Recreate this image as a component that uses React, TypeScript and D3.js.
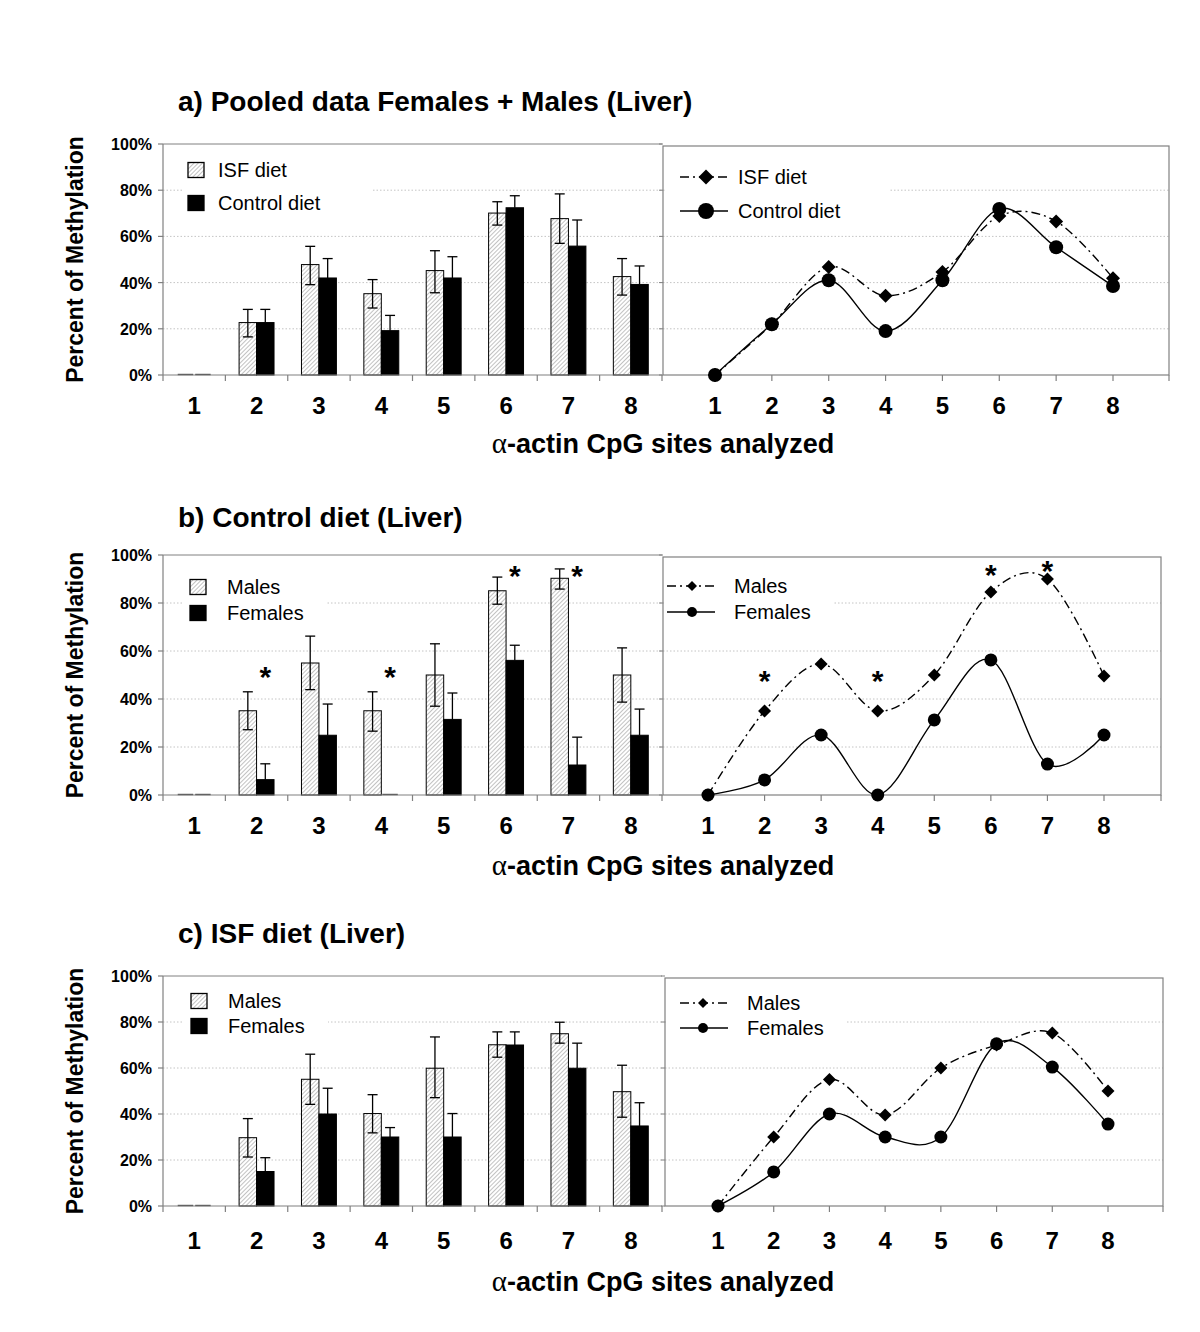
import React from "react";
import * as d3 from "d3";

// ---------- DATA ----------
const categories = ["1", "2", "3", "4", "5", "6", "7", "8"];
const yTicks = [0, 20, 40, 60, 80, 100];

// a) pooled bars
const pooledISF = [0, 22.7, 47.8, 35.2, 45.2, 70.1, 67.7, 42.6];
const pooledISFLow = [0, 16.5, 39.1, 29.0, 35.6, 64.9, 57.0, 34.6];
const pooledISFHigh = [0, 28.4, 55.7, 41.3, 53.8, 75.0, 78.4, 50.4];
const pooledControl = [0, 22.7, 42.0, 19.2, 42.0, 72.4, 55.8, 39.2];
const pooledControlHigh = [0, 28.4, 50.4, 25.8, 51.2, 77.6, 67.1, 47.2];
// a) pooled lines
const pooledISFLine = [0, 22, 46.8, 34.3, 44.6, 68.8, 66.5, 41.9];
const pooledControlLine = [0, 22, 41, 19, 41, 71.9, 55.3, 38.5];

// b) control diet bars
const controlMales = [0, 35.1, 55, 35.1, 50, 85.1, 90.3, 50];
const controlMalesLow = [0, 27.2, 43.9, 26.6, 37, 79.5, 85.8, 38.7];
const controlMalesHigh = [0, 43, 66.2, 43, 63, 90.8, 94.2, 61.3];
const controlFemales = [0, 6.4, 24.9, 0, 31.5, 56.1, 12.5, 24.9];
const controlFemalesHigh = [0, 13, 37.9, 0, 42.5, 62.4, 24.1, 35.8];
// b) control diet lines
const controlMalesLine = [0, 35, 54.6, 35, 50, 84.6, 90, 49.6];
const controlFemalesLine = [0, 6.3, 25, 0, 31.3, 56.3, 12.9, 25];
// b) significance marks
const controlStarCats = ["2", "4", "6", "7"];
const controlStarLeftY = [52, 52, 94, 94];
const controlStarRightY = [50.4, 50.4, 94.6, 96.3];

// c) ISF diet bars
const isfMales = [0, 29.7, 55.1, 40.2, 59.9, 70.1, 74.9, 49.7];
const isfMalesLow = [0, 21.3, 44.2, 31.8, 47.1, 64.7, 70.8, 38.6];
const isfMalesHigh = [0, 38, 66, 48.4, 73.5, 75.7, 79.9, 61.2];
const isfFemales = [0, 15, 40, 30, 30, 70, 59.9, 34.8];
const isfFemalesHigh = [0, 21, 51.2, 34.1, 40.2, 75.7, 70.8, 44.9];
// c) ISF diet lines
const isfMalesLine = [0, 30, 55, 39.6, 60, 70, 75.2, 50];
const isfFemalesLine = [0, 14.8, 40, 30, 30, 70.5, 60.4, 35.6];

// ---------- LAYOUT ----------
const FONT = "'Liberation Sans', Arial, Helvetica, sans-serif";
const GRID = "#c4c4c4";
const AXIS = "#808080";

const panels = [
  {
    key: "a",
    title: "a) Pooled data Females + Males (Liver)",
    titleY: 111,
    y0: 375,
    y100: 144,
    catY: 414,
    xTitleY: 453,
    bars: [
      { values: pooledISF, low: pooledISFLow, high: pooledISFHigh, hatch: true },
      { values: pooledControl, low: null, high: pooledControlHigh, hatch: false },
    ],
    barLegend: { labels: ["ISF diet", "Control diet"], sqX: 188, ys: [170, 203], textX: 218, bg: [183, 153, 372, 222] },
    lines: [
      { values: pooledISFLine, dashed: true },
      { values: pooledControlLine, dashed: false },
    ],
    box: [663, 1169],
    pts: [715, 1113],
    marker: { d: 7, r: 7 },
    lineLegend: { labels: ["ISF diet", "Control diet"], x0: 680, x1: 728, mx: 706, ys: [177, 211], textX: 738, d: 7.5, r: 8, bg: [665, 160, 890, 228] },
    stars: null,
  },
  {
    key: "b",
    title: "b) Control diet (Liver)",
    titleY: 527,
    y0: 795,
    y100: 555,
    catY: 834,
    xTitleY: 875,
    bars: [
      { values: controlMales, low: controlMalesLow, high: controlMalesHigh, hatch: true },
      { values: controlFemales, low: null, high: controlFemalesHigh, hatch: false },
    ],
    barLegend: { labels: ["Males", "Females"], sqX: 190, ys: [587, 613], textX: 227, bg: [183, 574, 326, 628] },
    lines: [
      { values: controlMalesLine, dashed: true },
      { values: controlFemalesLine, dashed: false },
    ],
    box: [663, 1161],
    pts: [708, 1104],
    marker: { d: 6.5, r: 6.5 },
    lineLegend: { labels: ["Males", "Females"], x0: 667, x1: 715, mx: 692, ys: [586, 612], textX: 734, d: 5, r: 5, bg: [664, 572, 833, 628] },
    stars: { cats: controlStarCats, left: controlStarLeftY, right: controlStarRightY },
  },
  {
    key: "c",
    title: "c) ISF diet (Liver)",
    titleY: 943,
    y0: 1206,
    y100: 976,
    catY: 1249,
    xTitleY: 1291,
    bars: [
      { values: isfMales, low: isfMalesLow, high: isfMalesHigh, hatch: true },
      { values: isfFemales, low: null, high: isfFemalesHigh, hatch: false },
    ],
    barLegend: { labels: ["Males", "Females"], sqX: 191, ys: [1001, 1026], textX: 228, bg: [183, 988, 328, 1042] },
    lines: [
      { values: isfMalesLine, dashed: true },
      { values: isfFemalesLine, dashed: false },
    ],
    box: [665, 1163],
    pts: [718, 1108],
    marker: { d: 6.5, r: 6.5 },
    lineLegend: { labels: ["Males", "Females"], x0: 680, x1: 728, mx: 703, ys: [1003, 1028], textX: 747, d: 5, r: 5, bg: [666, 988, 845, 1042] },
    stars: null,
  },
];

const LEFT_X0 = 163;
const LEFT_X1 = 662;

function diamond(x: number, y: number, h: number) {
  return `M${x},${y - h}L${x + h},${y}L${x},${y + h}L${x - h},${y}Z`;
}

function Panel({ p }: { p: any }) {
  const y = d3.scaleLinear().domain([0, 100]).range([p.y0, p.y100]);
  const x = d3.scaleBand().domain(categories).range([LEFT_X0, LEFT_X1]).paddingInner(0.44).paddingOuter(0.22);
  const sub = d3.scaleBand().domain(["s0", "s1"]).range([0, x.bandwidth()]);
  const xp = d3.scalePoint().domain(categories).range(p.pts);
  const step = x.step();
  const leftEdges = d3.range(categories.length + 1).map((i) => LEFT_X0 + i * step);

  const lineGen = (vals: number[]) =>
    d3
      .line<number>()
      .x((_, i) => xp(categories[i]) as number)
      .y((d) => y(d))
      .curve(d3.curveCardinal.tension(0))(vals) as string;

  const midY = (p.y0 + p.y100) / 2;
  const [bx0, bx1] = p.box;

  return (
    <g>
      {/* title */}
      <text x={178} y={p.titleY} fontFamily={FONT} fontWeight="bold" fontSize={28} fill="#000">
        {p.title}
      </text>

      {/* y-axis title */}
      <text
        transform={`translate(83,${midY}) rotate(-90)`}
        textAnchor="middle"
        fontFamily={FONT}
        fontWeight="bold"
        fontSize={23}
        fill="#000"
      >
        Percent of Methylation
      </text>

      {/* LEFT chart gridlines */}
      {yTicks.slice(1, 5).map((t) => (
        <line key={"lg" + t} x1={LEFT_X0} x2={LEFT_X1} y1={y(t)} y2={y(t)} stroke={GRID} strokeWidth={1} strokeDasharray="1.5,2" />
      ))}
      {/* top border */}
      <line x1={LEFT_X0} x2={LEFT_X1} y1={y(100)} y2={y(100)} stroke={AXIS} strokeWidth={1} />
      {/* legend bg */}
      <rect x={p.barLegend.bg[0]} y={p.barLegend.bg[1]} width={p.barLegend.bg[2] - p.barLegend.bg[0]} height={p.barLegend.bg[3] - p.barLegend.bg[1]} fill="#fff" />

      {/* y axis */}
      <line x1={LEFT_X0} x2={LEFT_X0} y1={y(100)} y2={y(0)} stroke={AXIS} strokeWidth={1.2} />
      {yTicks.map((t) => (
        <g key={"yt" + t}>
          <line x1={LEFT_X0 - 5} x2={LEFT_X0} y1={y(t)} y2={y(t)} stroke={AXIS} strokeWidth={1.2} />
          <text x={152} y={y(t) + 6} textAnchor="end" fontFamily={FONT} fontWeight="bold" fontSize={16} fill="#000">
            {t + "%"}
          </text>
        </g>
      ))}

      {/* bars */}
      {p.bars.map((s: any, si: number) =>
        categories.map((c, i) => {
          const bx = (x(c) as number) + (sub(si === 0 ? "s0" : "s1") as number);
          const bw = sub.bandwidth();
          const v = s.values[i];
          if (v <= 0) {
            return (
              <line key={`b${si}-${i}`} x1={bx + 1} x2={bx + bw - 1} y1={y(0) - 0.5} y2={y(0) - 0.5} stroke="#444" strokeWidth={1.4} />
            );
          }
          return (
            <rect
              key={`b${si}-${i}`}
              x={bx}
              y={y(v)}
              width={bw}
              height={Math.max(0, y(0) - y(v))}
              fill={s.hatch ? "url(#hatch)" : "#000"}
              stroke="#000"
              strokeWidth={1}
            />
          );
        })
      )}
      {/* error bars */}
      {p.bars.map((s: any, si: number) =>
        categories.map((c, i) => {
          const v = s.values[i];
          const hi = s.high[i];
          if (!(hi > v)) return null;
          const cx = (x(c) as number) + (sub(si === 0 ? "s0" : "s1") as number) + sub.bandwidth() / 2;
          const lo = s.low ? s.low[i] : v;
          const cw = 5;
          return (
            <g key={`e${si}-${i}`} stroke="#000" strokeWidth={1.3}>
              <line x1={cx} x2={cx} y1={y(lo)} y2={y(hi)} />
              <line x1={cx - cw} x2={cx + cw} y1={y(hi)} y2={y(hi)} />
              {s.low && <line x1={cx - cw} x2={cx + cw} y1={y(lo)} y2={y(lo)} />}
            </g>
          );
        })
      )}

      {/* x axis left */}
      <line x1={LEFT_X0} x2={LEFT_X1} y1={y(0)} y2={y(0)} stroke={AXIS} strokeWidth={1.2} />
      {leftEdges.map((ex, i) => (
        <line key={"xt" + i} x1={ex} x2={ex} y1={y(0)} y2={y(0) + 6} stroke={AXIS} strokeWidth={1.2} />
      ))}
      {categories.map((c) => (
        <text key={"cl" + c} x={(x(c) as number) + x.bandwidth() / 2} y={p.catY} textAnchor="middle" fontFamily={FONT} fontWeight="bold" fontSize={24} fill="#000">
          {c}
        </text>
      ))}

      {/* bar legend */}
      {p.barLegend.labels.map((lab: string, i: number) => (
        <g key={"bl" + i}>
          <rect x={p.barLegend.sqX} y={p.barLegend.ys[i] - 7.5} width={16} height={15} fill={i === 0 ? "url(#hatch)" : "#000"} stroke="#000" strokeWidth={1.3} />
          <text x={p.barLegend.textX} y={p.barLegend.ys[i] + 7} fontFamily={FONT} fontSize={20} fill="#000">
            {lab}
          </text>
        </g>
      ))}

      {/* RIGHT chart */}
      {yTicks.slice(1, 5).map((t) => (
        <line key={"rg" + t} x1={bx0} x2={bx1} y1={y(t)} y2={y(t)} stroke={GRID} strokeWidth={1} strokeDasharray="1.5,2" />
      ))}
      <rect x={p.lineLegend.bg[0]} y={p.lineLegend.bg[1]} width={p.lineLegend.bg[2] - p.lineLegend.bg[0]} height={p.lineLegend.bg[3] - p.lineLegend.bg[1]} fill="#fff" />
      <rect x={bx0} y={y(100) + 2} width={bx1 - bx0} height={y(0) - y(100) - 2} fill="none" stroke={AXIS} strokeWidth={1.2} />
      {yTicks.map((t) => (
        <line key={"rt" + t} x1={bx0 - 4} x2={bx0} y1={y(t)} y2={y(t)} stroke={AXIS} strokeWidth={1} />
      ))}
      {categories.map((c) => (
        <line key={"rxt" + c} x1={xp(c) as number} x2={xp(c) as number} y1={y(0)} y2={y(0) + 6} stroke={AXIS} strokeWidth={1.2} />
      ))}
      <line x1={bx1} x2={bx1} y1={y(0)} y2={y(0) + 6} stroke={AXIS} strokeWidth={1.2} />
      {categories.map((c) => (
        <text key={"rcl" + c} x={xp(c) as number} y={p.catY} textAnchor="middle" fontFamily={FONT} fontWeight="bold" fontSize={24} fill="#000">
          {c}
        </text>
      ))}

      {/* lines */}
      {p.lines.map((s: any, si: number) => (
        <path
          key={"ln" + si}
          d={lineGen(s.values)}
          fill="none"
          stroke="#000"
          strokeWidth={1.4}
          strokeDasharray={s.dashed ? "9,4,2,4" : undefined}
        />
      ))}
      {p.lines.map((s: any, si: number) =>
        s.values.map((v: number, i: number) =>
          si === 0 ? (
            <path key={`m${si}-${i}`} d={diamond(xp(categories[i]) as number, y(v), p.marker.d)} fill="#000" />
          ) : (
            <circle key={`m${si}-${i}`} cx={xp(categories[i]) as number} cy={y(v)} r={p.marker.r} fill="#000" />
          )
        )
      )}

      {/* line legend */}
      {p.lineLegend.labels.map((lab: string, i: number) => (
        <g key={"ll" + i}>
          <line
            x1={p.lineLegend.x0}
            x2={p.lineLegend.x1}
            y1={p.lineLegend.ys[i]}
            y2={p.lineLegend.ys[i]}
            stroke="#000"
            strokeWidth={1.4}
            strokeDasharray={i === 0 ? "9,4,2,4" : undefined}
          />
          {i === 0 ? (
            <path d={diamond(p.lineLegend.mx, p.lineLegend.ys[i], p.lineLegend.d)} fill="#000" />
          ) : (
            <circle cx={p.lineLegend.mx} cy={p.lineLegend.ys[i]} r={p.lineLegend.r} fill="#000" />
          )}
          <text x={p.lineLegend.textX} y={p.lineLegend.ys[i] + 7} fontFamily={FONT} fontSize={20} fill="#000">
            {lab}
          </text>
        </g>
      ))}

      {/* significance stars */}
      {p.stars &&
        p.stars.cats.map((c: string, i: number) => (
          <g key={"st" + c}>
            <text
              x={(x(c) as number) + (sub("s1") as number) + sub.bandwidth() / 2}
              y={y(p.stars.left[i]) + 17}
              textAnchor="middle"
              fontFamily={FONT}
              fontWeight="bold"
              fontSize={30}
              fill="#000"
            >
              *
            </text>
            <text
              x={xp(c) as number}
              y={y(p.stars.right[i]) + 17}
              textAnchor="middle"
              fontFamily={FONT}
              fontWeight="bold"
              fontSize={30}
              fill="#000"
            >
              *
            </text>
          </g>
        ))}

      {/* x-axis title */}
      <text x={663} y={p.xTitleY} textAnchor="middle" fontFamily={FONT} fontWeight="bold" fontSize={27} fill="#000">
        <tspan fontFamily="'Liberation Serif', 'Times New Roman', serif" fontWeight="normal" fontSize={29}>
          α
        </tspan>
        <tspan>-actin CpG sites analyzed</tspan>
      </text>
    </g>
  );
}

export default function App() {
  return (
    <svg
      width={1200}
      height={1332}
      viewBox="0 0 1200 1332"
      style={{ position: "absolute", left: 0, top: 0, display: "block", background: "#fff" }}
    >
      <defs>
        <pattern id="hatch" patternUnits="userSpaceOnUse" width={3} height={3} patternTransform="rotate(45)">
          <rect width={3} height={3} fill="#fff" />
          <line x1={0} y1={0} x2={0} y2={3} stroke="#999" strokeWidth={1.2} />
        </pattern>
      </defs>
      <rect width={1200} height={1332} fill="#fff" />
      {panels.map((p) => (
        <Panel key={p.key} p={p} />
      ))}
    </svg>
  );
}
